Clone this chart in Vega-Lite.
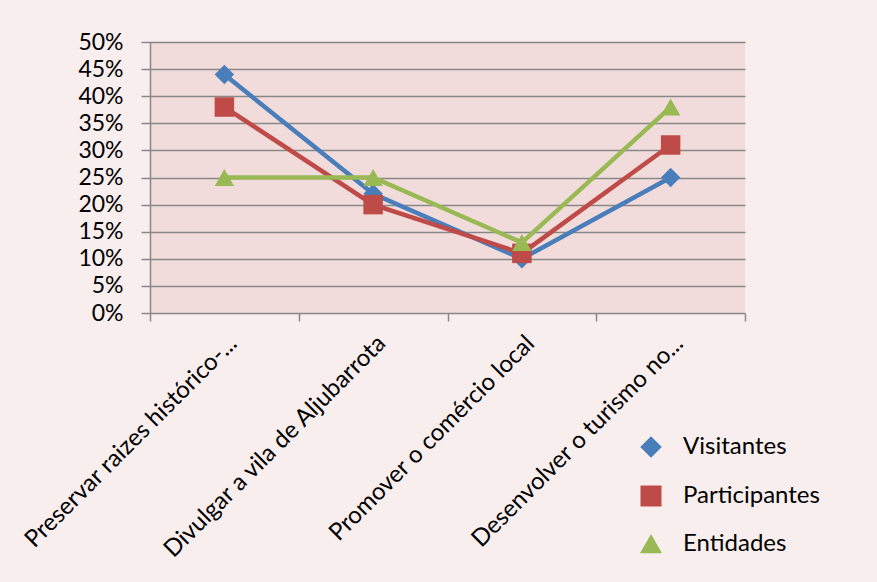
{
  "$schema": "https://vega.github.io/schema/vega-lite/v6.json",
  "width": 595,
  "height": 271,
  "autosize": {"type": "none"},
  "padding": {"left": 150, "top": 42, "right": 132, "bottom": 269},
  "background": "#F9EEEE",
  "config": {"view": {"fill": "#F2DCDB", "stroke": null}, "font": "Lato"},
  "data": {
    "values": [
      {"cat": "Preservar raizes histórico-...", "series": "Visitantes", "val": 0.44},
      {"cat": "Divulgar a vila de Aljubarrota", "series": "Visitantes", "val": 0.22},
      {"cat": "Promover o comércio local", "series": "Visitantes", "val": 0.10},
      {"cat": "Desenvolver o turismo no...", "series": "Visitantes", "val": 0.25},
      {"cat": "Preservar raizes histórico-...", "series": "Participantes", "val": 0.38},
      {"cat": "Divulgar a vila de Aljubarrota", "series": "Participantes", "val": 0.20},
      {"cat": "Promover o comércio local", "series": "Participantes", "val": 0.11},
      {"cat": "Desenvolver o turismo no...", "series": "Participantes", "val": 0.31},
      {"cat": "Preservar raizes histórico-...", "series": "Entidades", "val": 0.25},
      {"cat": "Divulgar a vila de Aljubarrota", "series": "Entidades", "val": 0.25},
      {"cat": "Promover o comércio local", "series": "Entidades", "val": 0.13},
      {"cat": "Desenvolver o turismo no...", "series": "Entidades", "val": 0.38}
    ]
  },
  "encoding": {
    "x": {
      "field": "cat",
      "type": "nominal",
      "sort": ["Preservar raizes histórico-...", "Divulgar a vila de Aljubarrota", "Promover o comércio local", "Desenvolver o turismo no..."],
      "scale": {"type": "band", "paddingInner": 0, "paddingOuter": 0},
      "axis": {
        "title": null,
        "domain": false,
        "grid": false,
        "ticks": true,
        "tickBand": "extent",
        "tickSize": 8,
        "tickColor": "#888888",
        "tickWidth": 1.5,
        "labelAngle": -45,
        "labelFontSize": 24,
        "labelColor": "#000000",
        "labelPadding": 10,
        "labelLimit": 400
      }
    },
    "y": {
      "field": "val",
      "type": "quantitative",
      "scale": {"domain": [0, 0.5], "nice": false},
      "axis": {
        "title": null,
        "format": ".0%",
        "values": [0, 0.05, 0.1, 0.15, 0.2, 0.25, 0.3, 0.35, 0.4, 0.45, 0.5],
        "domainColor": "#888888",
        "domainWidth": 1.5,
        "tickColor": "#888888",
        "tickWidth": 1.5,
        "tickSize": 9,
        "gridColor": "#888888",
        "gridWidth": 1.5,
        "gridOpacity": 1,
        "labelFontSize": 23,
        "labelColor": "#000000",
        "labelPadding": 18
      }
    },
    "color": {
      "field": "series",
      "type": "nominal",
      "scale": {"domain": ["Visitantes", "Participantes", "Entidades"], "range": ["#4A7EBB", "#BE4B48", "#98B954"]},
      "legend": {
        "title": null,
        "orient": "none",
        "legendX": 489,
        "legendY": 393,
        "symbolSize": 380,
        "symbolOpacity": 1,
        "labelOffset": 20,
        "labelFontSize": 24,
        "labelColor": "#000000",
        "rowPadding": 23
      }
    }
  },
  "layer": [
    {
      "mark": {"type": "line", "strokeWidth": 4.5}
    },
    {
      "mark": {"type": "point", "filled": true, "opacity": 1, "size": 380},
      "encoding": {
        "shape": {
          "field": "series",
          "type": "nominal",
          "scale": {"domain": ["Visitantes", "Participantes", "Entidades"], "range": ["diamond", "square", "triangle-up"]},
          "legend": null
        }
      }
    }
  ]
}
